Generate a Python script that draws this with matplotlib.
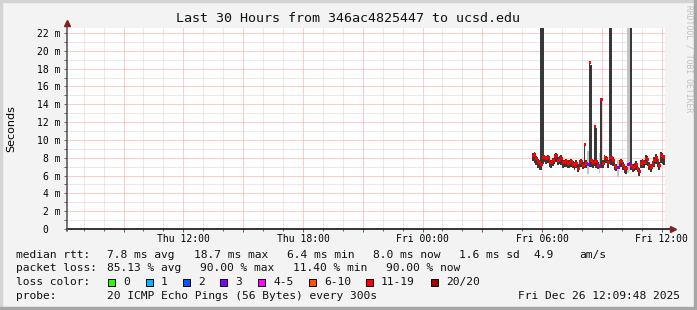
import matplotlib
matplotlib.use('Agg')
import matplotlib.pyplot as plt
import matplotlib.dates as mdates
from matplotlib.ticker import FuncFormatter, MultipleLocator
from matplotlib.patches import Rectangle
import pandas as pd
import numpy as np

# ---- data ----
times = pd.date_range('2025-12-26 05:30', periods=80, freq='5min')
median_ms = [8.3, 8.4, 8.0, 7.6, 7.4, 7.3, 8.1, 8.1, 8.0, 8.1,
             7.6, 7.5, 7.7, 8.2, 8.3, 7.8, 7.9, 8.0, 7.5, 7.5,
             7.6, 7.4, 7.5, 7.6, 7.3, 7.2, 7.4, 6.9, 7.5, 7.6,
             7.2, 9.5, 7.4, 7.3, 18.8, 7.8, 7.5, 11.6, 7.6, 7.2,
             7.1, 14.6, 7.4, 8.1, 8.0, 7.5, 8.1, 8.1, 7.8, 7.2,
             7.0, 7.0, 7.5, 7.6, 7.2, 6.9, 6.8, 7.3, 7.4, 7.2,
             7.0, 7.1, 7.3, 6.9, 6.5, 7.4, 7.6, 7.5, 8.0, 7.9,
             7.2, 7.0, 7.3, 7.8, 8.1, 7.7, 7.2, 8.3, 8.2, 8.1]
smoke_lo = [7.6, 7.4, 7.2, 6.9, 6.6, 6.6, 7.3, 7.5, 7.3, 7.4,
            7.0, 6.9, 7.1, 7.3, 7.5, 7.2, 7.3, 7.2, 6.9, 7.0,
            7.0, 6.8, 6.9, 7.0, 6.8, 6.6, 6.9, 6.4, 6.9, 7.0,
            6.7, 6.8, 6.9, 6.2, 7.0, 7.0, 6.9, 7.1, 6.9, 6.7,
            6.3, 6.9, 6.9, 7.3, 7.4, 6.9, 7.3, 7.2, 7.1, 6.6,
            6.5, 5.8, 6.9, 7.0, 6.6, 6.3, 6.2, 6.3, 6.5, 6.6,
            6.4, 6.5, 6.6, 6.4, 6.0, 6.8, 6.9, 6.8, 7.2, 7.1,
            6.6, 6.4, 6.7, 7.0, 7.3, 7.0, 6.6, 7.4, 7.3, 7.2]
smoke_hi = [8.5, 8.6, 8.2, 7.9, 7.7, 40, 40, 8.3, 8.2, 8.3,
            7.9, 7.8, 8.0, 8.4, 8.5, 8.1, 8.2, 8.3, 7.8, 7.8,
            7.9, 7.7, 7.8, 7.9, 7.6, 7.5, 7.7, 7.3, 7.8, 7.9,
            7.5, 9.6, 7.7, 8.8, 18.8, 18.4, 7.8, 11.7, 11.3, 7.5,
            8.5, 14.7, 7.7, 8.3, 8.2, 7.8, 40, 40, 8.1, 7.5,
            7.3, 7.8, 7.8, 7.9, 7.5, 7.2, 7.1, 40, 40, 40,
            7.3, 7.4, 7.6, 7.2, 6.9, 7.7, 7.9, 7.8, 8.3, 8.2,
            7.5, 7.3, 7.6, 8.1, 8.4, 8.0, 7.5, 8.6, 8.5, 8.3]
lost = [18, 18, 18, 18, 18, 18, 18, 18, 18, 18,
        18, 18, 18, 18, 18, 18, 18, 18, 18, 18,
        18, 18, 18, 18, 18, 18, 18, 18, 18, 18,
        18, 18, 18, 3, 18, 18, 18, 18, 18, 18,
        3, 18, 18, 18, 18, 18, 18, 18, 18, 18,
        18, 3, 18, 18, 18, 18, 18, 3, 3, 18,
        18, 18, 18, 18, 18, 18, 18, 18, 18, 18,
        18, 18, 18, 18, 18, 18, 18, 18, 18, 18]

ytick_vals = [0, 2, 4, 6, 8, 10, 12, 14, 16, 18, 20, 22]
ytick_labels = ['0  ', '2 m', '4 m', '6 m', '8 m', '10 m', '12 m', '14 m',
                '16 m', '18 m', '20 m', '22 m']
loss_names = ['0', '1', '2', '3', '4-5', '6-10', '11-19', '20/20']
loss_colors = ['#26ff00', '#00b8ff', '#0059ff', '#7e00ff', '#ff00ff',
               '#ff5500', '#ff0000', '#a10000']

title = 'Last 30 Hours from 346ac4825447 to ucsd.edu'
t_start = pd.Timestamp('2025-12-25 06:09:48')
t_end = pd.Timestamp('2025-12-26 12:09:48')

MONO = 'DejaVu Sans Mono'
W, H = 697, 310


def loss_color(n):
    if n == 0: return loss_colors[0]
    if n <= 3: return loss_colors[n]
    if n <= 5: return loss_colors[4]
    if n <= 10: return loss_colors[5]
    if n <= 19: return loss_colors[6]
    return loss_colors[7]


def px(x, y):
    return x / W, 1 - y / H


fig = plt.figure(figsize=(W / 100, H / 100), dpi=100, facecolor='#f3f3f3')
# frame of the rrdtool image
fig.patches.append(Rectangle((0, 1 - 2 / H), 1, 2 / H, transform=fig.transFigure, color='#d4d4d4', zorder=0))
fig.patches.append(Rectangle((0, 0), 2 / W, 1, transform=fig.transFigure, color='#d4d4d4', zorder=0))
fig.patches.append(Rectangle((1 - 3 / W, 0), 3 / W, 1, transform=fig.transFigure, color='#a6a6a6', zorder=0))
fig.patches.append(Rectangle((0, 0), 1, 3 / H, transform=fig.transFigure, color='#a6a6a6', zorder=0))

l, r, t, b = 67, 665, 27.7, 229
ax = fig.add_axes([l / W, 1 - b / H, (r - l) / W, (b - t) / H])
ax.set_facecolor('white')

tnum = mdates.date2num(times.to_pydatetime())
step = 5 / 1440
lo = np.array(smoke_lo)
hi = np.array(smoke_hi)
smoke_cols = ['#c4c4c4' if n < 11 else '#383838' for n in lost]
ax.bar(tnum, hi - lo, bottom=lo, width=step, align='edge', color=smoke_cols,
       linewidth=0, antialiased=False, zorder=2)
ax.hlines(median_ms, tnum, tnum + step, colors=[loss_color(n) for n in lost], lw=2,
          antialiased=False, zorder=3)

ax.set_xlim(mdates.date2num(t_start.to_pydatetime()), mdates.date2num(t_end.to_pydatetime()))
ax.set_ylim(0, 22.6)

ax.xaxis.set_major_locator(mdates.HourLocator(byhour=range(0, 24, 3)))
ax.xaxis.set_minor_locator(mdates.HourLocator())


def xfmt(v, pos):
    d = mdates.num2date(v)
    return d.strftime('%a %H:%M') if d.hour % 6 == 0 else ''


ax.xaxis.set_major_formatter(FuncFormatter(xfmt))
ax.set_yticks(ytick_vals)
ax.set_yticklabels(ytick_labels)
ax.yaxis.set_minor_locator(MultipleLocator(1))

ax.grid(which='major', color='#ff9a9a', ls=(0, (1, 1)), lw=0.72, zorder=0)
ax.grid(which='minor', color='#d4d4d4', ls=(0, (1, 1)), lw=0.72, zorder=0)
ax.set_axisbelow(True)

ax.tick_params(which='both', length=2, width=0.7, color='#606060', labelsize=7, pad=2.5)
ax.tick_params(axis='x', which='both', pad=1.5)
ax.tick_params(axis='x', which='minor', length=1.5)
for lab in ax.get_xticklabels() + ax.get_yticklabels():
    lab.set_family(MONO)
for s in ax.spines.values():
    s.set_visible(False)

# axes with arrow heads
ax.plot([0, 1.012], [0, 0], transform=ax.transAxes, color='black', lw=1.1, clip_on=False, zorder=5)
ax.plot([1.013], [0], transform=ax.transAxes, marker='>', ms=5, color='#802020', clip_on=False, zorder=5)
ax.plot([0, 0], [-0.01, 1.018], transform=ax.transAxes, color='#505050', lw=1.1, clip_on=False, zorder=5)
ax.plot([0], [1.022], transform=ax.transAxes, marker='^', ms=5, color='#802020', clip_on=False, zorder=5)

ax.set_ylabel('Seconds', fontsize=8, family='DejaVu Sans')
ax.yaxis.set_label_coords((16 - l) / (r - l), 0.5)

fig.text(*px(348.5, 19), title, ha='center', va='center', family=MONO, size=9.6, color='#111111')
fig.text(*px(689, 5), 'RRDTOOL / TOBI OETIKER', rotation=270, ha='center', va='top',
         family=MONO, size=5.8, color='#c0c0c0')

fs = 8.1
rows = [
    (255, [(16, 'median rtt:'), (107.3, '7.8 ms avg'), (194, '18.7 ms max'), (287, '6.4 ms min'),
           (373, '8.0 ms now'), (459, '1.6 ms sd'), (534, '4.9'), (579, 'am/s')]),
    (268.3, [(16, 'packet loss:'), (107.3, '85.13 % avg'), (200, '90.00 % max'), (293, '11.40 % min'),
             (386, '90.00 % now')]),
    (296, [(16, 'probe:'), (107.3, '20 ICMP Echo Pings (56 Bytes) every 300s')]),
]
for y, items in rows:
    for x, s in items:
        fig.text(*px(x, y), s, ha='left', va='center', family=MONO, size=fs, color='#111111')
fig.text(*px(680, 296), 'Fri Dec 26 12:09:48 2025', ha='right', va='center', family=MONO, size=fs, color='#111111')

fig.text(*px(16, 281.7), 'loss color:', ha='left', va='center', family=MONO, size=fs, color='#111111')
sw_x = [108.3, 146, 183, 220, 258, 309, 366, 431]
for x, name, c in zip(sw_x, loss_names, loss_colors):
    fig.patches.append(Rectangle(px(x, 285.5), 7 / W, 7 / H, transform=fig.transFigure,
                                 facecolor=c, edgecolor='black', lw=0.7))
    fig.text(*px(x + 15, 281.7), name, ha='left', va='center', family=MONO, size=fs, color='#111111')

fig.savefig('out.png', dpi=100, facecolor=fig.get_facecolor())
